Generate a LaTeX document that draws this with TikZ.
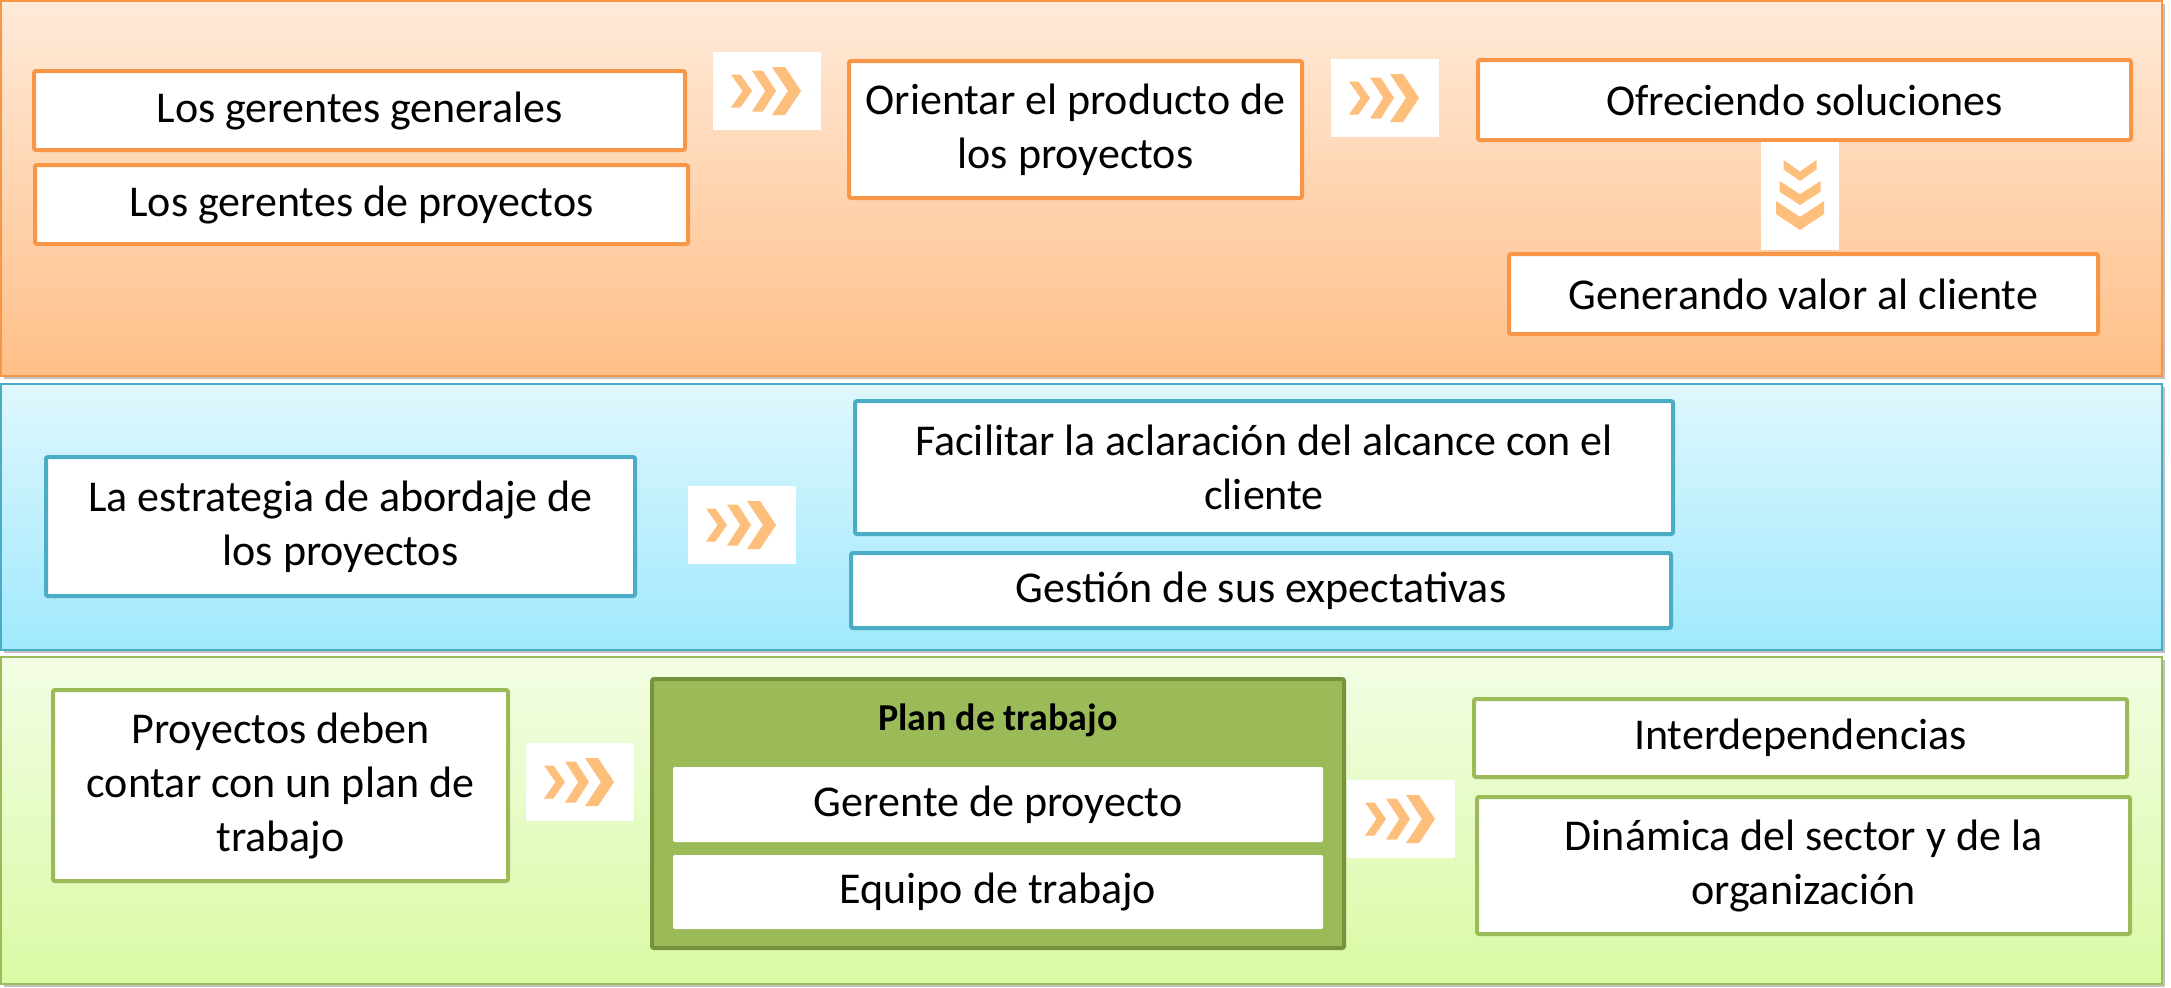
\documentclass[tikz,border=0pt]{standalone}
\usepackage{fontspec}
\setmainfont{Carlito}
\usetikzlibrary{shadows}

\definecolor{orline}{HTML}{F79646}
\definecolor{orlight}{HTML}{FFEAD9}
\definecolor{ordark}{HTML}{FFBF88}
\definecolor{blline}{HTML}{4BACC6}
\definecolor{bllight}{HTML}{DFF7FD}
\definecolor{bldark}{HTML}{A0E9FD}
\definecolor{grline}{HTML}{9BBB59}
\definecolor{grdeep}{HTML}{76923C}
\definecolor{grlight}{HTML}{F3FDE4}
\definecolor{grdark}{HTML}{D9FAA4}
\definecolor{chevcol}{HTML}{FEBE7C}

\tikzset{
  band/.style={line width=1pt,
    drop shadow={shadow xshift=1.5pt,shadow yshift=-1.5pt,opacity=0.35,fill=black!70}},
  txtbox/.style={fill=white,line width=2pt,rounded corners=1pt,inner sep=0pt,
    align=center,font=\fontsize{22}{27}\selectfont},
  orbox/.style={txtbox,draw=orline},
  blbox/.style={txtbox,draw=blline},
  grbox/.style={txtbox,draw=grline},
  inbox/.style={txtbox,draw=none},
  chevs/.pic={
    \fill[white] (-54,-39) rectangle (54,39);
    \foreach \a/\b/\h in {-36/-15/16.5,-15/9/20.5,5/34/24}
      \fill[chevcol] (\a,-\h) -- ({\a+0.45*(\b-\a)},-\h) -- (\b,0)
        -- ({\a+0.45*(\b-\a)},\h) -- (\a,\h) -- ({\b-0.45*(\b-\a)},0) -- cycle;
  }
}

\begin{document}
\begin{tikzpicture}[x=0.5pt,y=-0.5pt]
  \useasboundingbox (0,0) rectangle (2171,987);

  % bands
  \draw[band,draw=orline,top color=orlight,bottom color=ordark] (1,1) rectangle (2162,376);
  \draw[band,draw=blline,top color=bllight,bottom color=bldark] (1,384) rectangle (2162,650);
  \draw[band,draw=grline,top color=grlight,bottom color=grdark] (1,657) rectangle (2162,984);

  % orange band
  \node[orbox,minimum width=325.5pt,minimum height=39.5pt] (gengen) at (359.5,110.5) {Los gerentes generales};
  \node[orbox,minimum width=326.5pt,minimum height=39.5pt] (genproy) at (361.5,204.5) {Los gerentes de proyectos};
  \pic at (767,91) {chevs};
  \node[orbox,minimum width=226.5pt,minimum height=68.5pt] (orient) at (1075.5,129.5) {Orientar el producto de\\los proyectos};
  \pic at (1385,98) {chevs};
  \node[orbox,minimum width=326.5pt,minimum height=40pt] (ofrec) at (1804.5,100) {Ofreciendo soluciones};
  \pic[rotate=-90] at (1800,196) {chevs};
  \node[orbox,minimum width=294.5pt,minimum height=40pt] (valor) at (1803.5,294) {Generando valor al cliente};

  % blue band
  \node[blbox,minimum width=294.5pt,minimum height=69.5pt] (estrat) at (340.5,526.5) {La estrategia de abordaje de\\los proyectos};
  \pic at (742,525) {chevs};
  \node[blbox,minimum width=409pt,minimum height=66.5pt] (alcance) at (1264,467.5) {Facilitar la aclaración del alcance con el\\cliente};
  \node[blbox,minimum width=410pt,minimum height=37.5pt] (expect) at (1261,590.5) {Gestión de sus expectativas};

  % green band
  \node[grbox,minimum width=227.5pt,minimum height=95.5pt] (proyplan) at (280.5,785.5) {Proyectos deben\\contar con un plan de\\trabajo};
  \pic at (580,782) {chevs};
  \node[txtbox,fill=grline,draw=grdeep,minimum width=346pt,minimum height=134.5pt] (plan) at (998,813.5) {};
  \node[font=\bfseries\fontsize{19}{23}\selectfont] (plantit) at (998,720) {Plan de trabajo};
  \node[inbox,minimum width=325pt,minimum height=37.5pt] (gerente) at (998,804.5) {Gerente de proyecto};
  \node[inbox,minimum width=325pt,minimum height=37pt] (equipo) at (998,892) {Equipo de trabajo};
  \pic at (1401,819) {chevs};
  \node[grbox,minimum width=326.5pt,minimum height=39pt] (interd) at (1800.5,738) {Interdependencias};
  \node[grbox,minimum width=326.5pt,minimum height=68.5pt] (dinam) at (1803.5,865.5) {Dinámica del sector y de la\\organización};
\end{tikzpicture}
\end{document}
